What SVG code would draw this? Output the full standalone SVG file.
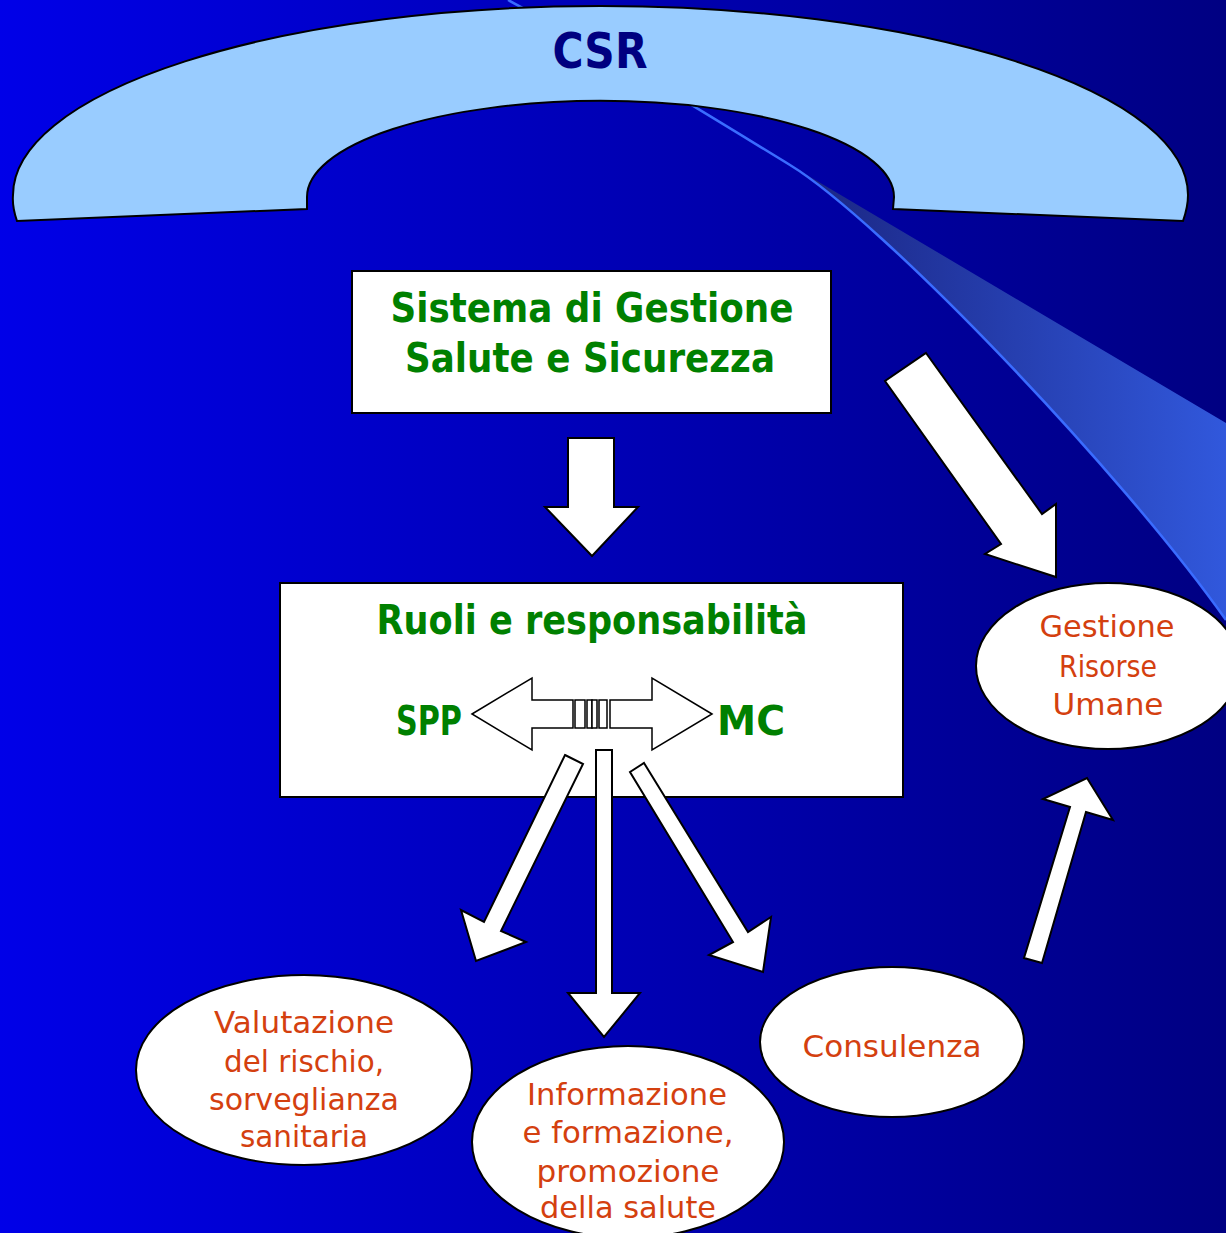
<svg xmlns="http://www.w3.org/2000/svg" width="1226" height="1233" viewBox="0 0 1226 1233">
<defs>
<linearGradient id="bg" x1="0" y1="0" x2="1" y2="0">
<stop offset="0" stop-color="#0000e8"/>
<stop offset="1" stop-color="#000082"/>
</linearGradient>
<linearGradient id="wedge" gradientUnits="userSpaceOnUse" x1="790" y1="0" x2="1226" y2="0">
<stop offset="0" stop-color="#1a2480"/>
<stop offset="1" stop-color="#3158dc"/>
</linearGradient>
<style>
.shape{fill:#ffffff;stroke:#000000;stroke-width:2}
.arrow{fill:#ffffff;stroke:#000000;stroke-width:2;stroke-linejoin:miter}
.thin{fill:#ffffff;stroke:#000000;stroke-width:1.5}
.green{fill:#008000;font-family:"DejaVu Sans",sans-serif;font-weight:bold;text-anchor:middle}
.orange{fill:#d4400f;font-family:"DejaVu Sans",sans-serif;font-size:30px;text-anchor:middle}
</style>
</defs>
<rect x="0" y="0" width="1226" height="1233" fill="url(#bg)"/>
<g id="swoosh">
<path d="M790,165 L1226,423 L1226,620 C1120,470 880,220 790,165 Z" fill="url(#wedge)"/>
<path d="M508,0 C620,60 700,110 790,165 C880,220 1120,470 1226,620" fill="none" stroke="#3a6cff" stroke-width="2.5"/>
</g>
<g id="csr">
<path d="M17,221 Q12,207 13,195 A587.5,189 0 0 1 1188,195 Q1188,207 1183,221 L893,209 L894,197 A293,96 0 0 0 307,197 L307,209 Z" fill="#99ccff" stroke="#000000" stroke-width="2"/>
<text x="600" y="68" fill="#000080" font-family="DejaVu Sans,sans-serif" font-weight="bold" font-size="50" text-anchor="middle" textLength="95" lengthAdjust="spacingAndGlyphs">CSR</text>
</g>
<g id="sistema">
<rect class="shape" x="352" y="271" width="479" height="142"/>
<text class="green" x="592" y="322" font-size="40" textLength="403" lengthAdjust="spacingAndGlyphs">Sistema di Gestione</text>
<text class="green" x="590" y="372" font-size="40" textLength="370" lengthAdjust="spacingAndGlyphs">Salute e Sicurezza</text>
</g>
<g id="ruoli">
<rect class="shape" x="280" y="583" width="623" height="214"/>
<text class="green" x="592" y="634" font-size="40" textLength="431" lengthAdjust="spacingAndGlyphs">Ruoli e responsabilità</text>
<text class="green" x="429" y="735" font-size="40" textLength="66" lengthAdjust="spacingAndGlyphs">SPP</text>
<text class="green" x="751" y="735" font-size="40" textLength="68" lengthAdjust="spacingAndGlyphs">MC</text>
</g>
<g id="gestione-risorse">
<ellipse class="shape" cx="1108" cy="666" rx="132" ry="83"/>
<text class="orange" x="1107" y="637" textLength="135" lengthAdjust="spacingAndGlyphs">Gestione</text>
<text class="orange" x="1108" y="677" textLength="98" lengthAdjust="spacingAndGlyphs">Risorse</text>
<text class="orange" x="1108" y="715" textLength="111" lengthAdjust="spacingAndGlyphs">Umane</text>
</g>
<g id="valutazione">
<ellipse class="shape" cx="304" cy="1070" rx="168" ry="95"/>
<text class="orange" x="304" y="1033" textLength="180" lengthAdjust="spacingAndGlyphs">Valutazione</text>
<text class="orange" x="304" y="1072" textLength="160" lengthAdjust="spacingAndGlyphs">del rischio,</text>
<text class="orange" x="304" y="1110" textLength="190" lengthAdjust="spacingAndGlyphs">sorveglianza</text>
<text class="orange" x="304" y="1147" textLength="128" lengthAdjust="spacingAndGlyphs">sanitaria</text>
</g>
<g id="informazione">
<ellipse class="shape" cx="628" cy="1142" rx="156" ry="96"/>
<text class="orange" x="627" y="1105" textLength="200" lengthAdjust="spacingAndGlyphs">Informazione</text>
<text class="orange" x="628" y="1143" textLength="211" lengthAdjust="spacingAndGlyphs">e formazione,</text>
<text class="orange" x="628" y="1182" textLength="183" lengthAdjust="spacingAndGlyphs">promozione</text>
<text class="orange" x="628" y="1218" textLength="176" lengthAdjust="spacingAndGlyphs">della salute</text>
</g>
<g id="consulenza">
<ellipse class="shape" cx="892" cy="1042" rx="132" ry="75"/>
<text class="orange" x="892" y="1057" textLength="179" lengthAdjust="spacingAndGlyphs">Consulenza</text>
</g>
<g id="connectors">
<polygon class="arrow" points="568,438 614,438 614,507 638,507 592,556 545,507 568,507"/>
<polygon class="arrow" points="926,353 1042,514 1056,504 1056,577 985,554 1001,544 885,381"/>
<polygon class="thin" points="472,714 532,678 532,700 573,700 573,728 532,728 532,750"/>
<polygon class="thin" points="712,714 652,678 652,700 610,700 610,728 652,728 652,750"/>
<rect class="thin" x="575" y="700" width="10" height="28"/>
<rect class="thin" x="587" y="700" width="5" height="28"/>
<rect class="thin" x="592" y="700" width="5" height="28"/>
<rect class="thin" x="599" y="700" width="8" height="28"/>
<polygon class="arrow" points="565,755 583,764 501,931 526,942 476,961 461,910 484,922"/>
<polygon class="arrow" points="596,750 612,750 612,993 640,993 604,1037 568,993 596,993"/>
<polygon class="arrow" points="644,763 748,932 771,917 763,972 709,955 733,942 630,772"/>
<polygon class="arrow" points="1042,963 1086,812 1113,820 1087,778 1043,799 1070,807 1024,958"/>
</g>
</svg>
